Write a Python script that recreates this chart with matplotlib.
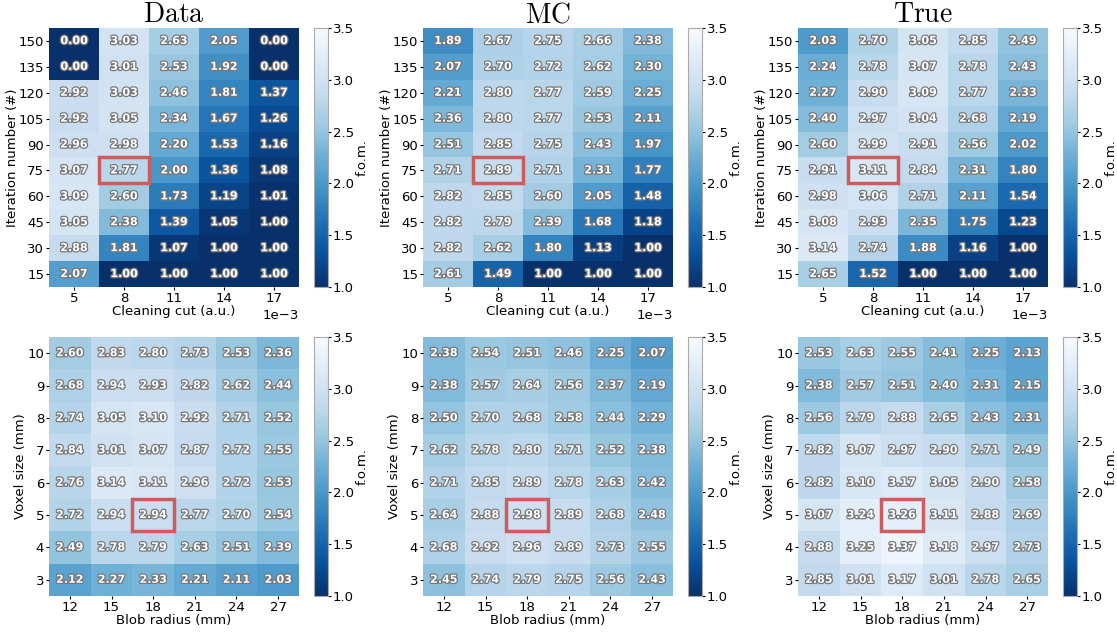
import numpy as np
import matplotlib
matplotlib.use("Agg")
import matplotlib.pyplot as plt
import matplotlib.patheffects as pe
from matplotlib.patches import Rectangle

plt.rcParams['mathtext.fontset'] = 'cm'
plt.rcParams['font.size'] = 9.5

# top row: cleaning cut vs iteration number (rows listed from 150 down to 15)
cleaning_cut = [0.005, 0.008, 0.011, 0.014, 0.017]
iterations = [150, 135, 120, 105, 90, 75, 60, 45, 30, 15]

data_top = [
    [0.00, 3.03, 2.63, 2.05, 0.00],
    [0.00, 3.01, 2.53, 1.92, 0.00],
    [2.92, 3.03, 2.46, 1.81, 1.37],
    [2.92, 3.05, 2.34, 1.67, 1.26],
    [2.96, 2.98, 2.20, 1.53, 1.16],
    [3.07, 2.77, 2.00, 1.36, 1.08],
    [3.09, 2.60, 1.73, 1.19, 1.01],
    [3.05, 2.38, 1.39, 1.05, 1.00],
    [2.88, 1.81, 1.07, 1.00, 1.00],
    [2.07, 1.00, 1.00, 1.00, 1.00],
]
mc_top = [
    [1.89, 2.67, 2.75, 2.66, 2.38],
    [2.07, 2.70, 2.72, 2.62, 2.30],
    [2.21, 2.80, 2.77, 2.59, 2.25],
    [2.36, 2.80, 2.77, 2.53, 2.11],
    [2.51, 2.85, 2.75, 2.43, 1.97],
    [2.71, 2.89, 2.71, 2.31, 1.77],
    [2.82, 2.85, 2.60, 2.05, 1.48],
    [2.82, 2.79, 2.39, 1.68, 1.18],
    [2.82, 2.62, 1.80, 1.13, 1.00],
    [2.61, 1.49, 1.00, 1.00, 1.00],
]
true_top = [
    [2.03, 2.70, 3.05, 2.85, 2.49],
    [2.24, 2.78, 3.07, 2.78, 2.43],
    [2.27, 2.90, 3.09, 2.77, 2.33],
    [2.40, 2.97, 3.04, 2.68, 2.19],
    [2.60, 2.99, 2.91, 2.56, 2.02],
    [2.91, 3.11, 2.84, 2.31, 1.80],
    [2.98, 3.06, 2.71, 2.11, 1.54],
    [3.08, 2.93, 2.35, 1.75, 1.23],
    [3.14, 2.74, 1.88, 1.16, 1.00],
    [2.65, 1.52, 1.00, 1.00, 1.00],
]

# bottom row: blob radius vs voxel size (rows listed from 10 down to 3)
blob_radius = [12, 15, 18, 21, 24, 27]
voxel_size = [10, 9, 8, 7, 6, 5, 4, 3]

data_bot = [
    [2.60, 2.83, 2.80, 2.73, 2.53, 2.36],
    [2.68, 2.94, 2.93, 2.82, 2.62, 2.44],
    [2.74, 3.05, 3.10, 2.92, 2.71, 2.52],
    [2.84, 3.01, 3.07, 2.87, 2.72, 2.55],
    [2.76, 3.14, 3.11, 2.96, 2.72, 2.53],
    [2.72, 2.94, 2.94, 2.77, 2.70, 2.54],
    [2.49, 2.78, 2.79, 2.63, 2.51, 2.39],
    [2.12, 2.27, 2.33, 2.21, 2.11, 2.03],
]
mc_bot = [
    [2.38, 2.54, 2.51, 2.46, 2.25, 2.07],
    [2.38, 2.57, 2.64, 2.56, 2.37, 2.19],
    [2.50, 2.70, 2.68, 2.58, 2.44, 2.29],
    [2.62, 2.78, 2.80, 2.71, 2.52, 2.38],
    [2.71, 2.85, 2.89, 2.78, 2.63, 2.42],
    [2.64, 2.88, 2.98, 2.89, 2.68, 2.48],
    [2.68, 2.92, 2.96, 2.89, 2.73, 2.55],
    [2.45, 2.74, 2.79, 2.75, 2.56, 2.43],
]
true_bot = [
    [2.53, 2.63, 2.55, 2.41, 2.25, 2.13],
    [2.38, 2.57, 2.51, 2.40, 2.31, 2.15],
    [2.56, 2.79, 2.88, 2.65, 2.43, 2.31],
    [2.82, 3.07, 2.97, 2.90, 2.71, 2.49],
    [2.82, 3.10, 3.17, 3.05, 2.90, 2.58],
    [3.07, 3.24, 3.26, 3.11, 2.88, 2.69],
    [2.88, 3.25, 3.37, 3.18, 2.97, 2.73],
    [2.85, 3.01, 3.17, 3.01, 2.78, 2.65],
]

titles = ["Data", "MC", "True"]
best_top = (0.008, 75)
best_bot = (18, 5)


def edges(c):
    c = np.asarray(c, dtype=float)
    d = c[1] - c[0]
    return np.concatenate([c - d / 2, [c[-1] + d / 2]])


def draw_map(ax, cax, xs, ys, vals, best, xlabel, ylabel, sci=False):
    xs = np.asarray(xs, dtype=float)
    ys = np.asarray(ys, dtype=float)[::-1]
    z = np.asarray(vals)[::-1]
    mesh = ax.pcolormesh(edges(xs), edges(ys), z, cmap='Blues_r', vmin=1.0, vmax=3.5)
    for i, y in enumerate(ys):
        for j, x in enumerate(xs):
            ax.text(x, y, f"{z[i, j]:.2f}", ha='center', va='center', color='white',
                    fontsize=8, fontweight='bold',
                    path_effects=[pe.withStroke(linewidth=1.8, foreground='#777777')])
    dx = xs[1] - xs[0]
    dy = ys[1] - ys[0]
    ax.add_patch(Rectangle((best[0] - dx / 2, best[1] - dy / 2), dx, abs(dy), fill=False,
                           edgecolor='#cd5c5c', linewidth=2.5, zorder=5))
    ax.set_xticks(xs)
    ax.set_yticks(ys)
    if sci:
        ax.ticklabel_format(axis='x', style='sci', scilimits=(-3, -3))
    for s in ax.spines.values():
        s.set_visible(False)
    ax.tick_params(length=2, pad=1.5)
    ax.set_xlabel(xlabel, labelpad=0)
    ax.set_ylabel(ylabel, labelpad=0)
    cb = plt.colorbar(mesh, cax=cax)
    cb.set_ticks([1.0, 1.5, 2.0, 2.5, 3.0, 3.5])
    cb.outline.set_edgecolor('#aaaaaa')
    cb.ax.tick_params(length=2, pad=1.5)
    cb.set_label("f.o.m.", labelpad=1)


fig = plt.figure(figsize=(11.17, 6.32), dpi=100)
W, H = 1117, 632
lefts = [49, 423, 798]
cb_lefts = [314, 688, 1063]

for k in range(3):
    ax = fig.add_axes([lefts[k] / W, 1 - 287 / H, 250 / W, 259 / H])
    cax = fig.add_axes([cb_lefts[k] / W, 1 - 287 / H, 14 / W, 259 / H])
    draw_map(ax, cax, cleaning_cut, iterations, [data_top, mc_top, true_top][k], best_top,
             "Cleaning cut (a.u.)", "Iteration number (#)", sci=True)
    ax.set_title(r"$\mathrm{" + titles[k] + "}$", fontsize=20, pad=4)

    ax2 = fig.add_axes([lefts[k] / W, 1 - 596 / H, 250 / W, 259 / H])
    cax2 = fig.add_axes([cb_lefts[k] / W, 1 - 596 / H, 14 / W, 259 / H])
    draw_map(ax2, cax2, blob_radius, voxel_size, [data_bot, mc_bot, true_bot][k], best_bot,
             "Blob radius (mm)", "Voxel size (mm)")

fig.savefig("out.png", dpi=100)
